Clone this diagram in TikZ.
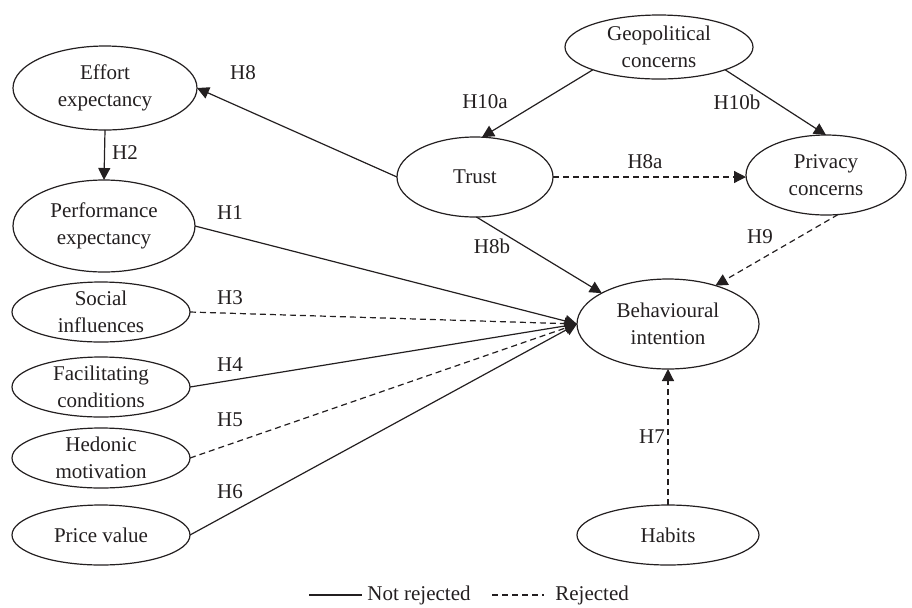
\documentclass[tikz,border=0pt]{standalone}
\usepackage{fontspec}
\setmainfont{Liberation Serif}
\usetikzlibrary{shapes.geometric,arrows.meta}
\definecolor{ink}{HTML}{231F20}
\begin{document}
\begin{tikzpicture}[x=0.5pt,y=-0.5pt, color=ink,
  ov/.style={draw=ink, text=ink, ellipse, line width=0.6pt, inner xsep=0pt, inner ysep=-3pt, outer sep=0pt, align=center, font=\fontsize{10.5}{13.5}\selectfont},
  lab/.style={text=ink, font=\fontsize{10.5}{13.5}\selectfont, inner sep=0pt},
  arr/.style={draw=ink, line width=0.6pt, -{Triangle[length=6pt,width=6pt]}},
  dsh/.style={dash pattern=on 3pt off 2pt},
  leg/.style={draw=ink, line width=0.6pt}]
\useasboundingbox (0,0) rectangle (912,607);
% nodes
\node[ov, minimum width=92pt, minimum height=42pt] (eff) at (105,88) {Effort\\expectancy};
\node[ov, minimum width=91pt, minimum height=46pt] (perf) at (104,226) {Performance\\expectancy};
\node[ov, minimum width=89pt, minimum height=30pt] (soc) at (101,312) {Social\\influences};
\node[ov, minimum width=89pt, minimum height=30pt] (fac) at (101,387) {Facilitating\\conditions};
\node[ov, minimum width=89pt, minimum height=30pt] (hed) at (101,458) {Hedonic\\motivation};
\node[ov, minimum width=89pt, minimum height=30pt] (price) at (101,535) {Price value};
\node[ov, minimum width=78pt, minimum height=40pt] (trust) at (475,177) {Trust};
\node[ov, minimum width=94pt, minimum height=32pt] (geo) at (659,47) {Geopolitical\\concerns};
\node[ov, minimum width=80pt, minimum height=40pt] (priv) at (826,175) {Privacy\\concerns};
\node[ov, minimum width=91pt, minimum height=45pt] (bi) at (668,324) {Behavioural\\intention};
\node[ov, minimum width=91pt, minimum height=30pt] (hab) at (668,535) {Habits};
% edges
\draw[arr] (trust.west) -- (eff.east);
\draw[arr] (eff.south) -- (perf.north);
\draw[arr] (perf.east) -- (bi.west);
\draw[arr,dsh] (soc.east) -- (bi.west);
\draw[arr] (fac.east) -- (bi.west);
\draw[arr,dsh] (hed.east) -- (bi.west);
\draw[arr] (price.east) -- (bi.west);
\draw[arr] (geo.199) -- (trust.80);
\draw[arr] (geo.341) -- (priv.north);
\draw[arr,dsh] (trust.east) -- (trust.east -| priv.west);
\draw[arr] (trust.272) -- (bi.155);
\draw[arr,dsh] (priv.287) -- (bi.39);
\draw[arr,dsh] (hab.north) -- (bi.south);
% labels
\node[lab] (l8) at (243,73) {H8};
\node[lab] (l2) at (125,153) {H2};
\node[lab] (l1) at (230,213) {H1};
\node[lab] (l3) at (230,298) {H3};
\node[lab] (l4) at (230,365) {H4};
\node[lab] (l5) at (230,420) {H5};
\node[lab] (l6) at (230,492) {H6};
\node[lab] (l10a) at (485,102) {H10a};
\node[lab] (l10b) at (737,102) {H10b};
\node[lab] (l8a) at (645,162) {H8a};
\node[lab] (l8b) at (492,246) {H8b};
\node[lab] (l9) at (760,237) {H9};
\node[lab] (l7) at (652,437) {H7};
% legend
\coordinate (s1) at (309,595);
\coordinate (s2) at (362,595);
\coordinate (d1) at (492,595);
\coordinate (d2) at (544,595);
\draw[leg] (s1) -- (s2);
\node[lab, anchor=west] (tnr) at (367,595) {Not rejected};
\draw[leg,dsh] (d1) -- (d2);
\node[lab, anchor=west] (trj) at (555,595) {Rejected};
\end{tikzpicture}
\end{document}
